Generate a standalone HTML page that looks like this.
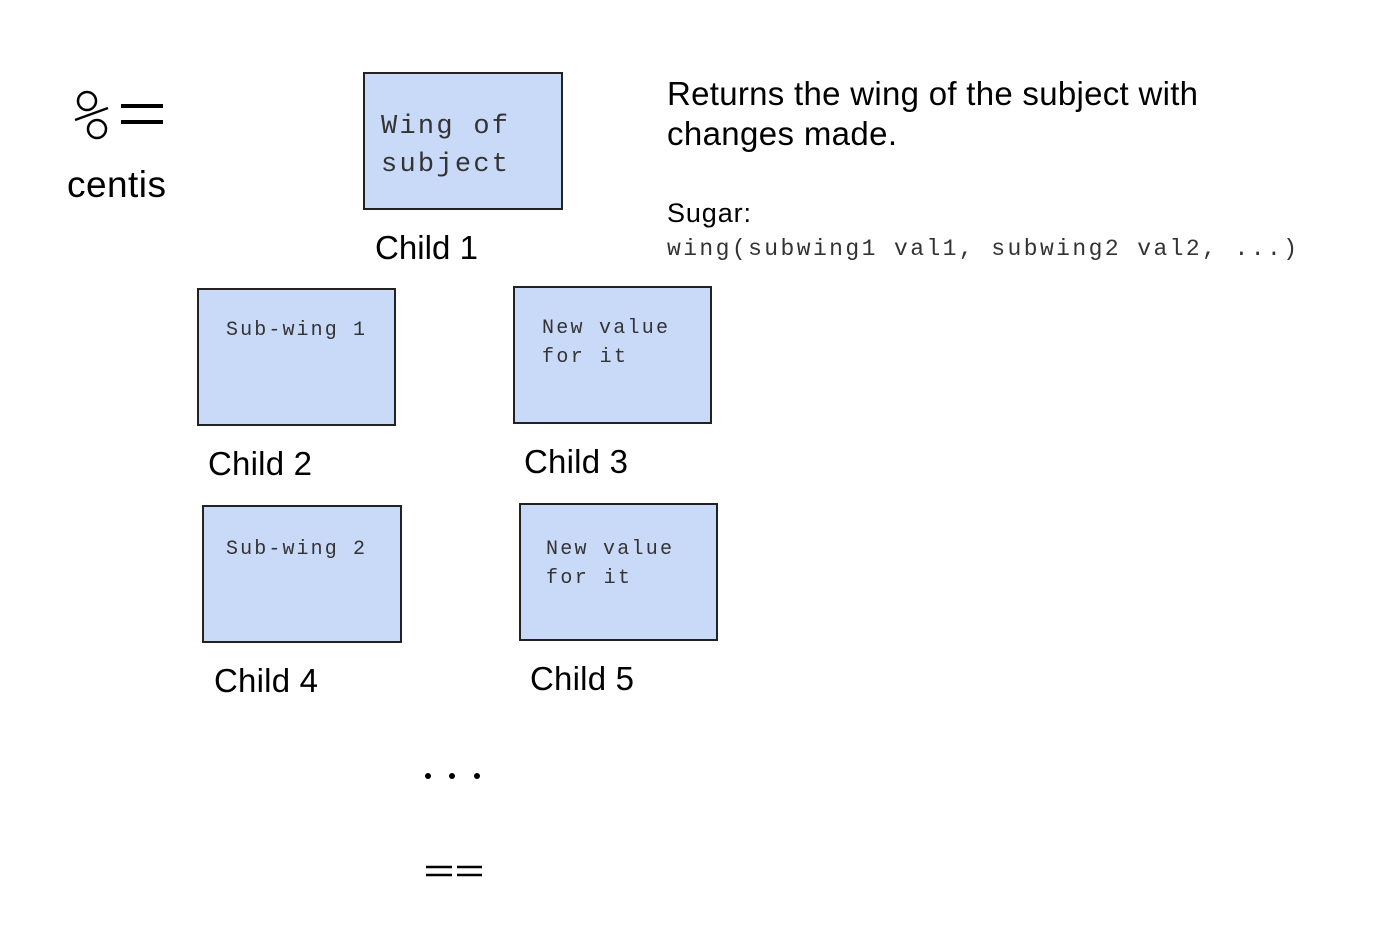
<!DOCTYPE html>
<html><head><style>body{margin:0;background:#fff}</style></head><body>
<svg width="1380" height="942" xmlns="http://www.w3.org/2000/svg">
<rect width="1380" height="942" fill="#fff"/>
<g fill="#c9daf8" stroke="#222" stroke-width="2">
<rect x="364" y="73" width="198" height="136"/>
<rect x="198" y="289" width="197" height="136"/>
<rect x="514" y="287" width="197" height="136"/>
<rect x="203" y="506" width="198" height="136"/>
<rect x="520" y="504" width="197" height="136"/>
</g>
<g fill="none" stroke="#000" stroke-width="2.5">
<circle cx="87" cy="101" r="9"/><circle cx="97" cy="129" r="9"/>
<line x1="75" y1="120" x2="108" y2="108"/>
</g>
<g stroke="#000" stroke-width="4">
<line x1="121" y1="106" x2="163" y2="106"/><line x1="121" y1="122" x2="163" y2="122"/>
</g>
<g stroke="#000" stroke-width="2.5">
<line x1="426" y1="867" x2="452" y2="867"/><line x1="457" y1="867" x2="482" y2="867"/>
<line x1="426" y1="875" x2="452" y2="875"/><line x1="457" y1="875" x2="482" y2="875"/>
</g>
<g fill="#000"><circle cx="428" cy="776" r="3"/><circle cx="452" cy="776" r="3"/><circle cx="477" cy="776" r="3"/></g>
<g font-family="Liberation Sans, sans-serif" fill="#000">
<text x="67" y="197" font-size="37" textLength="99">centis</text>
<text x="375" y="259" font-size="33" textLength="103">Child 1</text>
<text x="208" y="475" font-size="33" textLength="104">Child 2</text>
<text x="524" y="473" font-size="33" textLength="104">Child 3</text>
<text x="214" y="692" font-size="33" textLength="104">Child 4</text>
<text x="530" y="690" font-size="33" textLength="104">Child 5</text>
<text x="667" y="105" font-size="33" textLength="531">Returns the wing of the subject with</text>
<text x="667" y="145" font-size="33" textLength="230">changes made.</text>
<text x="667" y="222" font-size="27" textLength="84">Sugar:</text>
</g>
<g font-family="Liberation Mono, monospace" fill="#333">
<text x="381" y="133" font-size="27" textLength="127" lengthAdjust="spacing">Wing of</text>
<text x="381" y="171" font-size="27" textLength="127" lengthAdjust="spacing">subject</text>
<text x="226" y="335" font-size="20" textLength="139" lengthAdjust="spacing">Sub-wing 1</text>
<text x="542" y="333" font-size="20" textLength="126" lengthAdjust="spacing">New value</text>
<text x="542" y="362" font-size="20" textLength="84" lengthAdjust="spacing">for it</text>
<text x="226" y="554" font-size="20" textLength="139" lengthAdjust="spacing">Sub-wing 2</text>
<text x="546" y="554" font-size="20" textLength="126" lengthAdjust="spacing">New value</text>
<text x="546" y="583" font-size="20" textLength="84" lengthAdjust="spacing">for it</text>
<text x="667" y="255" font-size="23" textLength="630" lengthAdjust="spacing">wing(subwing1 val1, subwing2 val2, ...)</text>
</g>
</svg>
</body></html>
